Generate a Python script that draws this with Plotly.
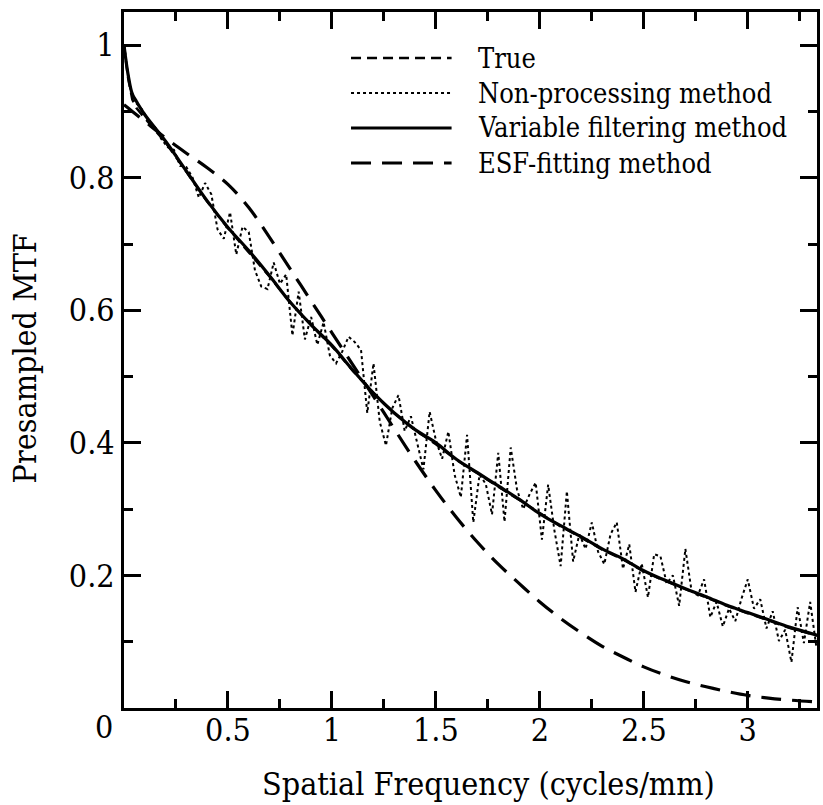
import numpy as np
import plotly.graph_objects as go

# ---- data ----
freq_smooth = [0.0, 0.02, 0.04, 0.06, 0.1, 0.2, 0.3, 0.4, 0.5, 0.6, 0.7, 0.8, 0.9, 1.0,
               1.1, 1.2, 1.3, 1.4, 1.5, 1.6, 1.7, 1.8, 1.9, 2.0, 2.1, 2.2, 2.3, 2.4,
               2.5, 2.6, 2.7, 2.8, 2.9, 3.0, 3.1, 3.2, 3.333]
mtf_variable = [1.0, 0.955, 0.926, 0.915, 0.895, 0.855, 0.81, 0.765, 0.725, 0.69, 0.652,
                0.612, 0.578, 0.547, 0.51, 0.475, 0.445, 0.42, 0.40, 0.375, 0.355, 0.335,
                0.315, 0.293, 0.275, 0.258, 0.24, 0.225, 0.207, 0.193, 0.18, 0.168, 0.155,
                0.144, 0.133, 0.122, 0.11]
mtf_true = [1.0, 0.950, 0.918, 0.905, 0.890, 0.853, 0.809, 0.764, 0.724, 0.688, 0.651,
            0.612, 0.578, 0.546, 0.509, 0.475, 0.445, 0.419, 0.398, 0.374, 0.354, 0.334,
            0.314, 0.293, 0.274, 0.257, 0.239, 0.224, 0.206, 0.192, 0.179, 0.167, 0.154,
            0.143, 0.132, 0.121, 0.109]
mtf_esf = [0.91, 0.905, 0.90, 0.895, 0.885, 0.86, 0.837, 0.815, 0.79, 0.755, 0.71,
           0.662, 0.614, 0.566, 0.518, 0.47, 0.421, 0.373, 0.328, 0.287, 0.25, 0.217,
           0.188, 0.16, 0.135, 0.113, 0.093, 0.077, 0.062, 0.05, 0.04, 0.032, 0.025,
           0.019, 0.015, 0.012, 0.009]

freq_np = np.round(np.arange(0, 112) * 0.03, 2)
mtf_nonproc = [1.000, 0.935, 0.912, 0.902, 0.884, 0.876, 0.858, 0.846, 0.842, 0.818,
               0.816, 0.800, 0.770, 0.792, 0.775, 0.722, 0.708, 0.748, 0.684, 0.726,
               0.718, 0.660, 0.636, 0.632, 0.672, 0.640, 0.654, 0.562, 0.628, 0.556,
               0.590, 0.548, 0.582, 0.532, 0.520, 0.538, 0.560, 0.552, 0.540, 0.445,
               0.520, 0.432, 0.396, 0.452, 0.472, 0.418, 0.440, 0.398, 0.360, 0.447,
               0.404, 0.376, 0.417, 0.352, 0.318, 0.412, 0.280, 0.352, 0.338, 0.292,
               0.385, 0.281, 0.393, 0.330, 0.300, 0.322, 0.340, 0.254, 0.337, 0.268,
               0.214, 0.327, 0.221, 0.262, 0.240, 0.280, 0.236, 0.217, 0.262, 0.280,
               0.210, 0.247, 0.175, 0.218, 0.167, 0.232, 0.229, 0.188, 0.200, 0.154,
               0.240, 0.176, 0.170, 0.194, 0.137, 0.160, 0.123, 0.150, 0.131, 0.165,
               0.194, 0.150, 0.164, 0.120, 0.146, 0.101, 0.118, 0.069, 0.152, 0.098,
               0.160, 0.092]

x_tickvals = [0.5, 1, 1.5, 2, 2.5, 3]
x_ticktext = ["0.5", "1", "1.5", "2", "2.5", "3"]
y_tickvals = [0.2, 0.4, 0.6, 0.8, 1.0]
y_ticktext = ["0.2", "0.4", "0.6", "0.8", "1"]

legend_names = ["True", "Non-processing method", "Variable filtering method", "ESF-fitting method"]
x_title = "Spatial Frequency (cycles/mm)"
y_title = "Presampled MTF"

FONT = "DejaVu Serif Condensed, DejaVu Serif"
DASH_TRUE = "10px,6px"
DASH_NP = "3px,3px"
DASH_ESF = "20px,11px"
TICK_SIZE = 32
TITLE_SIZE = 32
LEG_SIZE = 27

fig = go.Figure()
fig.add_trace(go.Scatter(x=freq_smooth, y=mtf_true, mode="lines", name=legend_names[0],
                         line=dict(color="black", width=2.5, dash=DASH_TRUE)))
fig.add_trace(go.Scatter(x=freq_np, y=mtf_nonproc, mode="lines", name=legend_names[1],
                         line=dict(color="black", width=2, dash=DASH_NP)))
fig.add_trace(go.Scatter(x=freq_smooth, y=mtf_variable, mode="lines", name=legend_names[2],
                         line=dict(color="black", width=3.2, shape="spline")))
fig.add_trace(go.Scatter(x=freq_smooth, y=mtf_esf, mode="lines", name=legend_names[3],
                         line=dict(color="black", width=3.2, dash=DASH_ESF, shape="spline")))

axis_common = dict(showline=True, linecolor="black", linewidth=3, mirror="allticks",
                   ticks="inside", ticklen=17, tickwidth=2.5, tickcolor="black",
                   showgrid=False, zeroline=False,
                   tickfont=dict(family=FONT, size=TICK_SIZE, color="black"))
fig.update_xaxes(range=[0, 3.333], tickvals=x_tickvals, ticktext=x_ticktext,
                 ticklabelstandoff=-8,
                 minor=dict(ticks="inside", ticklen=9, tickwidth=2.5, dtick=0.25, tick0=0,
                            tickcolor="black"),
                 **axis_common)
fig.update_yaxes(range=[0, 1.05], tickvals=y_tickvals, ticktext=y_ticktext,
                 minor=dict(ticks="inside", ticklen=9, tickwidth=2.5, dtick=0.1, tick0=0,
                            tickcolor="black"),
                 **axis_common)

W, H, L, R, T, B = 823, 805, 124, 3, 12, 97
pw, ph = W - L - R, H - T - B

def px_x(p):
    return (p - L) / pw

def px_y(p):
    return 1 - (p - T) / ph

leg_x0, leg_x1, leg_tx = 352, 453, 478
leg_rows = [58, 93, 128, 163]
leg_styles = [dict(width=2.5, dash=DASH_TRUE), dict(width=2, dash=DASH_NP),
              dict(width=3.2, dash="solid"), dict(width=3.2, dash=DASH_ESF)]
for name, yy, st in zip(legend_names, leg_rows, leg_styles):
    fig.add_shape(type="line", xref="paper", yref="paper",
                  x0=px_x(leg_x0), x1=px_x(leg_x1), y0=px_y(yy), y1=px_y(yy),
                  line=dict(color="black", **st))
    fig.add_annotation(xref="paper", yref="paper", x=px_x(leg_tx), y=px_y(yy),
                       xanchor="left", yanchor="middle", text=name, showarrow=False,
                       font=dict(family=FONT, size=LEG_SIZE, color="black"))

fig.add_annotation(xref="paper", yref="paper", x=px_x(104), y=px_y(727),
                   xanchor="center", yanchor="middle", text="0", showarrow=False,
                   font=dict(family=FONT, size=TICK_SIZE, color="black"))

fig.add_annotation(xref="paper", yref="paper", x=px_x(490), y=px_y(784),
                   xanchor="center", yanchor="middle", text=x_title, showarrow=False,
                   font=dict(family=FONT, size=TITLE_SIZE, color="black"))
fig.add_annotation(xref="paper", yref="paper", x=px_x(25), y=px_y(358),
                   xanchor="center", yanchor="middle", text=y_title, showarrow=False,
                   textangle=-90,
                   font=dict(family=FONT, size=TITLE_SIZE, color="black"))

fig.update_layout(width=W, height=H, margin=dict(l=L, r=R, t=T, b=B),
                  font=dict(family=FONT),
                  paper_bgcolor="white", plot_bgcolor="white", showlegend=False)
fig.write_html("out.html")
